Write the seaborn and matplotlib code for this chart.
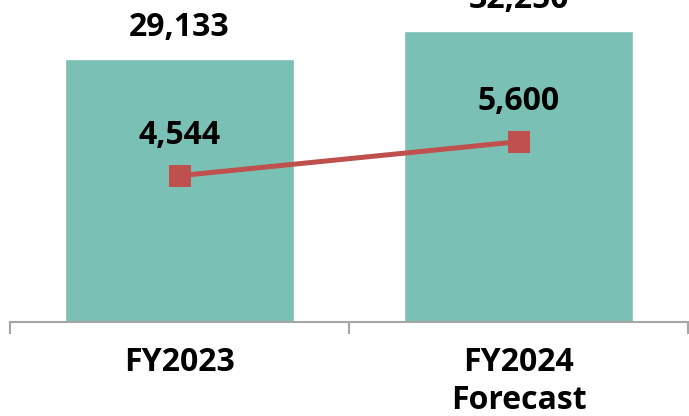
import matplotlib
matplotlib.use("Agg")
import matplotlib.pyplot as plt
import seaborn as sns
import pandas as pd

categories = ["FY2023", "FY2024\nForecast"]
bar_values = [29133, 32250]
line_values = [4544, 5600]
bar_labels = ["29,133", "32,250"]
line_labels = ["4,544", "5,600"]

BAR_COLOR = "#7BC0B4"
LINE_COLOR = "#C0504D"
FONT = "Open Sans"
FS = 23

sns.set_theme(style="white")
plt.rcParams["font.family"] = [FONT, "DejaVu Sans"]

W, H = 689, 416
fig = plt.figure(figsize=(W / 100, H / 100), dpi=100)
ax = fig.add_axes([10 / W, (H - 322) / H, 678 / W, 322 / H])

df = pd.DataFrame({"cat": categories, "bar": bar_values, "line": line_values})
sns.barplot(data=df, x="cat", y="bar", color=BAR_COLOR, width=0.675,
            saturation=1, ax=ax)
ax.set_xlim(-0.5, 1.5)
ax.set_ylim(0, 35680)

ax2 = ax.twinx()
sns.lineplot(x=[0, 1], y=line_values, color=LINE_COLOR, linewidth=3.6,
             marker="s", markersize=15.5, markeredgewidth=0, ax=ax2, sort=False)
ax2.set_ylim(0, 10000)
ax2.set_xlim(-0.5, 1.5)

for a in (ax, ax2):
    for s in ("top", "right", "left"):
        a.spines[s].set_visible(False)
    a.set_yticks([])
    a.set_ylabel("")
ax2.spines["bottom"].set_visible(False)

ax.spines["bottom"].set_color("#A6A6A6")
ax.spines["bottom"].set_linewidth(1.5)
ax.set_xlabel("")
ax.set_xticks([0, 1])
ax.set_xticklabels(categories, fontsize=FS, fontweight="bold", color="black",
                   linespacing=1.22)
ax.tick_params(axis="x", which="major", length=0, pad=17)
ax.set_xticks([-0.5, 0.5, 1.5], minor=True)
ax.tick_params(axis="x", which="minor", length=8.5, width=1.5,
               color="#A6A6A6", direction="out", bottom=True)

for i, (v, t) in enumerate(zip(bar_values, bar_labels)):
    ax.annotate(t, (i, v), xytext=(0, 22.5), textcoords="offset points",
                ha="center", va="center", fontsize=FS, fontweight="bold",
                color="black", annotation_clip=False)
for i, (v, t) in enumerate(zip(line_values, line_labels)):
    ax2.annotate(t, (i, v), xytext=(0, 29), textcoords="offset points",
                 ha="center", va="center", fontsize=FS, fontweight="bold",
                 color="black", annotation_clip=False)

fig.savefig("out.png", dpi=100)
